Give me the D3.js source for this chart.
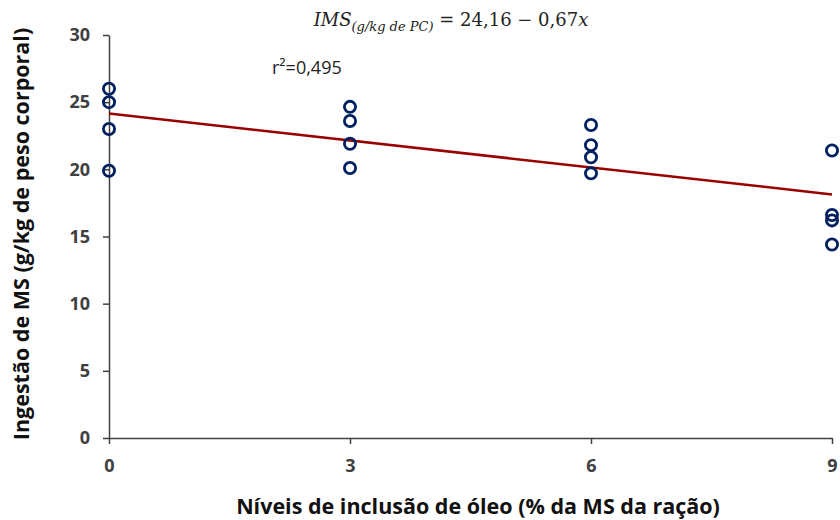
<!DOCTYPE html>
<html>
<head>
<meta charset="utf-8">
<script src="https://cdn.jsdelivr.net/npm/d3@7"></script>
<style>
  body { margin: 0; background: #fff; }
  svg { display: block; }
</style>
</head>
<body>
<div id="chart"></div>
<script>
// data
const xTicks = [0, 3, 6, 9];
const yTicks = [0, 5, 10, 15, 20, 25, 30];
const pointX = [0, 0, 0, 0, 3, 3, 3, 3, 6, 6, 6, 6, 9, 9, 9, 9];
const pointY = [26, 25, 23, 19.9, 24.65, 23.6, 21.9, 20.1, 23.3, 21.8, 20.9, 19.7, 21.4, 16.6, 16.2, 14.4];
const intercept = 24.16;
const slope = -0.67;
const r2Label = 'r²=0,495';

const width = 840, height = 520;
const margin = { top: 35, right: 8, bottom: 82, left: 109 };
const font = '"Open Sans", Lato, sans-serif';

const svg = d3.select('#chart').append('svg')
  .attr('width', width)
  .attr('height', height);

const x = d3.scaleLinear().domain([0, 9]).range([margin.left, width - margin.right]);
const y = d3.scaleLinear().domain([0, 30]).range([height - margin.bottom, margin.top]);

// axes
const xAxis = svg.append('g')
  .attr('transform', 'translate(0,' + y(0) + ')')
  .call(d3.axisBottom(x).tickValues(xTicks).tickSize(6).tickSizeOuter(0).tickPadding(15));
const yAxis = svg.append('g')
  .attr('transform', 'translate(' + x(0) + ',0)')
  .call(d3.axisLeft(y).tickValues(yTicks).tickSize(6).tickSizeOuter(0).tickPadding(13));

[xAxis, yAxis].forEach(a => {
  a.select('.domain').attr('stroke', '#404040').attr('stroke-width', 1.5);
  a.selectAll('.tick line').attr('stroke', '#404040').attr('stroke-width', 1.5);
  a.selectAll('.tick text')
    .style('font-family', font)
    .style('font-size', '18px')
    .style('font-weight', 'bold')
    .attr('fill', '#404040');
});

// regression line
svg.append('line')
  .attr('x1', x(0)).attr('y1', y(intercept))
  .attr('x2', x(9)).attr('y2', y(intercept + slope * 9))
  .attr('stroke', '#990000')
  .attr('stroke-width', 2.5);

// points
svg.append('g').selectAll('circle')
  .data(pointY)
  .enter()
  .append('circle')
  .attr('cx', (d, i) => x(pointX[i]))
  .attr('cy', d => y(d))
  .attr('r', 5.6)
  .attr('fill', 'none')
  .attr('stroke', '#002060')
  .attr('stroke-width', 2.8);

// equation
const eq = svg.append('text')
  .attr('x', 451).attr('y', 26)
  .attr('text-anchor', 'middle')
  .style('font-family', '"DejaVu Serif", "Liberation Serif", serif')
  .style('font-size', '18px')
  .attr('fill', '#222');
eq.append('tspan').style('font-style', 'italic').text('IMS');
eq.append('tspan').style('font-style', 'italic').style('font-size', '13px').attr('dy', 5).text('(g/kg de PC)');
eq.append('tspan').attr('dy', -5).text(' = 24,16 − 0,67');
eq.append('tspan').style('font-style', 'italic').text('x');

svg.append('text')
  .attr('x', 272).attr('y', 74)
  .style('font-family', font)
  .style('font-size', '18px')
  .attr('fill', '#222')
  .text(r2Label);

// axis titles
svg.append('text')
  .attr('x', 478).attr('y', 514)
  .attr('text-anchor', 'middle')
  .style('font-family', font)
  .style('font-size', '21.5px')
  .style('font-weight', 'bold')
  .attr('fill', '#111')
  .text('Níveis de inclusão de óleo (% da MS da ração)');

svg.append('text')
  .attr('transform', 'translate(29,234) rotate(-90)')
  .attr('text-anchor', 'middle')
  .style('font-family', font)
  .style('font-size', '21.5px')
  .style('font-weight', 'bold')
  .attr('fill', '#111')
  .text('Ingestão de MS (g/kg de peso corporal)');
</script>
</body>
</html>
